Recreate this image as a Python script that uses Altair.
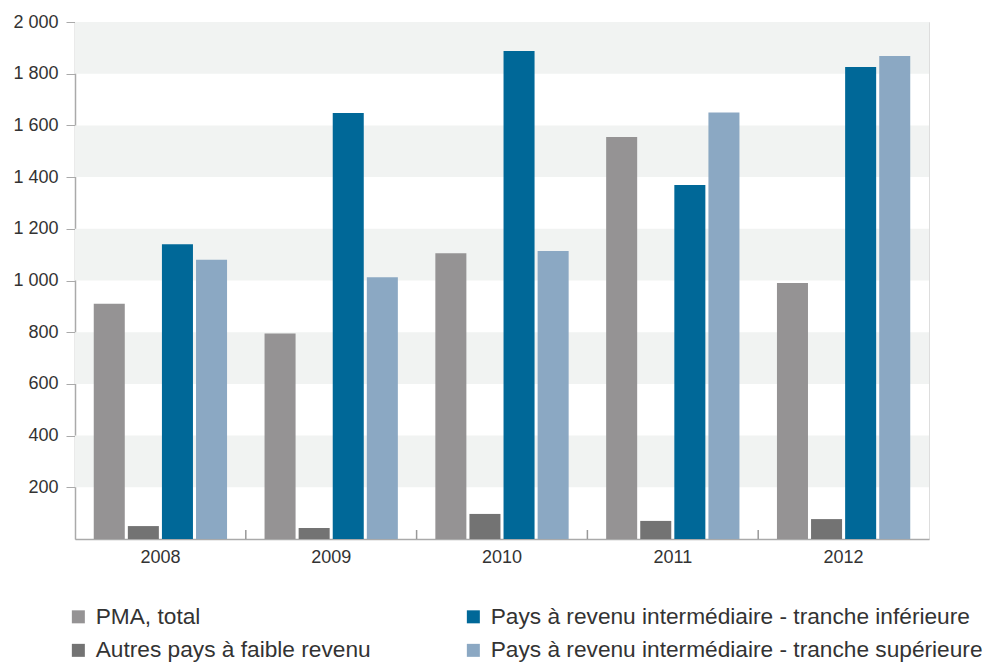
import altair as alt
import pandas as pd

years = ["2008", "2009", "2010", "2011", "2012"]
series = [
    "PMA, total",
    "Autres pays à faible revenu",
    "Pays à revenu intermédiaire - tranche inférieure",
    "Pays à revenu intermédiaire - tranche supérieure",
]
pma = [910, 795, 1105, 1555, 990]
autres = [50, 43, 97, 70, 77]
inferieure = [1140, 1648, 1888, 1369, 1826]
superieure = [1080, 1013, 1114, 1650, 1868]
colors = ["#959394", "#737373", "#006898", "#8ba8c3"]
y_ticks = [200, 400, 600, 800, 1000, 1200, 1400, 1600, 1800, 2000]
band_lo = [200, 600, 1000, 1400, 1800]
band_hi = [400, 800, 1200, 1600, 2000]

rows = []
for name, vals in zip(series, [pma, autres, inferieure, superieure]):
    for yr, v in zip(years, vals):
        rows.append({"year": yr, "series": name, "value": v})
df = pd.DataFrame(rows)
bands = pd.DataFrame({"lo": band_lo, "hi": band_hi})
ticks = pd.DataFrame({"year": years[1:]})

FONT = "Liberation Sans"

yscale = alt.Scale(domain=[0, 2000], nice=False)
xscale = alt.Scale(domain=years, paddingInner=0, paddingOuter=0)
yaxis = alt.Axis(
    title=None, values=y_ticks, grid=False, domainColor="#aaaaaa",
    domainWidth=1.5, tickColor="#aaaaaa", tickSize=9, labelPadding=8,
    labelFont=FONT, labelFontSize=18, labelColor="#333333",
    labelExpr="replace(format(datum.value, ','), ',', ' ')",
)

band_layer = alt.Chart(bands).mark_rect(color="#f1f3f2").encode(
    y=alt.Y("lo:Q", scale=yscale, axis=yaxis),
    y2="hi:Q",
    x=alt.value(0),
    x2=alt.value(854),
)

bars = alt.Chart(df).mark_bar().encode(
    x=alt.X(
        "year:N",
        scale=xscale,
        sort=years,
        axis=alt.Axis(
            title=None, labelAngle=0, ticks=False, domainColor="#aaaaaa",
            domainWidth=1.5, labelFont=FONT, labelFontSize=18,
            labelColor="#333333", labelPadding=9,
        ),
    ),
    xOffset=alt.XOffset(
        "series:N", sort=series,
        scale=alt.Scale(domain=series, paddingInner=0.09, paddingOuter=0.55),
    ),
    y=alt.Y("value:Q", scale=yscale, axis=yaxis),
    color=alt.Color(
        "series:N",
        scale=alt.Scale(domain=series, range=colors),
        legend=alt.Legend(
            title=None, orient="none", legendX=-8, legendY=583,
            columns=2, columnPadding=91, rowPadding=10,
            symbolType="square", symbolSize=169, symbolStrokeWidth=0,
            symbolOpacity=1, labelFont=FONT, labelFontSize=22.7,
            labelColor="#333333", labelOffset=6, labelLimit=600,
        ),
    ),
)

tick_layer = alt.Chart(ticks).mark_rule(color="#999999", strokeWidth=1.5).encode(
    x=alt.X("year:N", scale=xscale, bandPosition=0),
    y=alt.value(508),
    y2=alt.value(517),
)

chart = alt.layer(band_layer, bars, tick_layer).properties(
    width=854, height=517,
    autosize=alt.AutoSizeParams(type="none"),
    padding={"left": 75, "top": 22, "right": 61, "bottom": 124},
).configure_view(stroke=None).configure(background="white")

chart.save("out.html", embed_options={"renderer": "svg", "actions": False})
